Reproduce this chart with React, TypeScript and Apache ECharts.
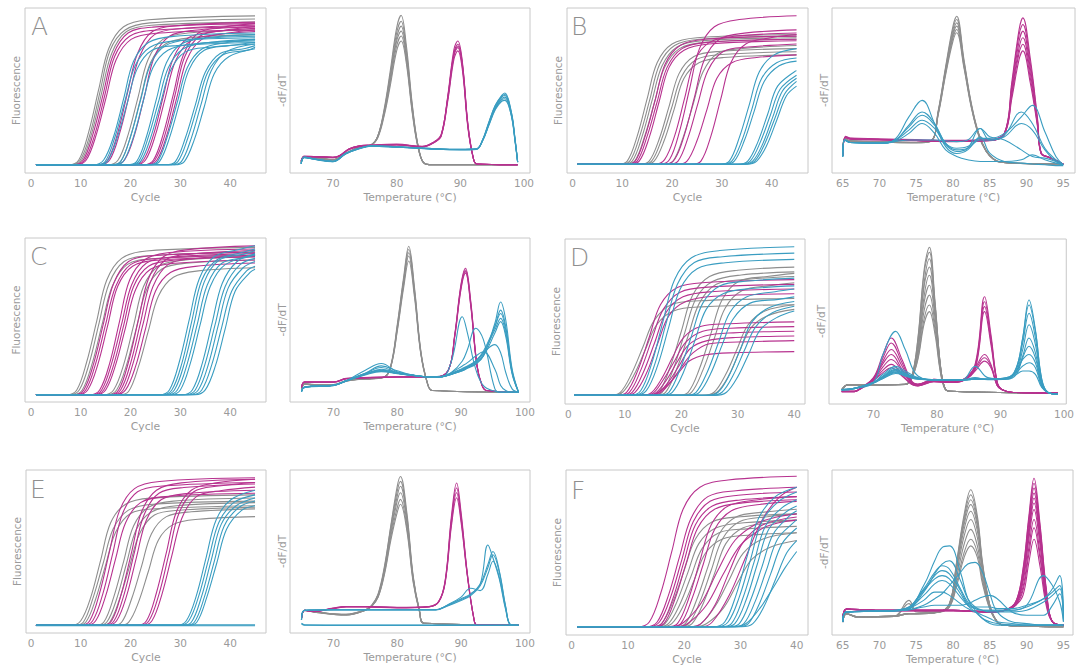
import React, { useEffect, useRef } from "react";
import * as echarts from "echarts";

const GRAY = "#8e8e8e";
const MAGENTA = "#b7328f";
const CYAN = "#3a9dc1";
const AXIS_TEXT = "#9a9a9a";
const BORDER = "#c8c8c8";
const FONT = "DejaVu Sans, Verdana, sans-serif";

// ---------- Amplification curves: [cycle, fluorescence] ----------
const A_AMP_GRAY = [
  [[1,0],[7.6,0],[9.6,3],[11.6,21],[13.6,48],[15.6,74],[18.6,88],[23.6,92.5],[45,95]],
  [[1,0],[7.9,0],[9.9,3],[11.9,20],[13.9,47],[15.9,73],[18.9,86],[23.9,90.5],[45,93]],
  [[1,0],[8.2,0],[10.2,3],[12.2,20],[14.2,46],[16.2,71],[19.2,85],[24.2,89],[45,91]],
  [[1,0],[15.5,0],[17.5,3],[19.5,19],[21.5,43],[23.5,67],[26.5,80],[31.5,84],[45,86]],
  [[1,0],[16,0],[18,2],[20,18],[22,42],[24,65],[27,77],[32,81],[45,83]],
];
const A_AMP_MAGENTA = [
  [[1,0],[8.5,0],[10.5,3],[12.5,20],[14.5,45],[16.5,70],[19.5,84],[24.5,87.8],[45,90]],
  [[1,0],[8.8,0],[10.8,3],[12.8,19],[14.8,44],[16.8,69],[19.8,82],[24.8,85.8],[45,88]],
  [[1,0],[9.1,0],[11.1,3],[13.1,19],[15.1,43],[17.1,67],[20.1,80],[25.1,83.9],[45,86]],
  [[1,0],[13.4,0],[15.4,3],[17.4,20],[19.4,46],[21.4,71],[24.4,85],[29.4,88.7],[45,91]],
  [[1,0],[13.8,0],[15.8,3],[17.8,20],[19.8,45],[21.8,69],[24.8,83],[29.8,86.8],[45,89]],
  [[1,0],[16.8,0],[18.8,3],[20.8,19],[22.8,44],[24.8,69],[27.8,82],[32.8,85.8],[45,88]],
  [[1,0],[20.6,0],[22.6,3],[24.6,19],[26.6,44],[28.6,68],[31.6,81],[36.6,84.8],[45,87]],
  [[1,0],[21,0],[23,3],[25,19],[27,43],[29,66],[32,79],[37,82.9],[45,85]],
  [[1,0],[22.6,0],[24.6,3],[26.6,20],[28.6,45],[30.6,70],[33.6,84],[38.6,87.8],[45,90]],
  [[1,0],[22.9,0],[24.9,3],[26.9,19],[28.9,44],[30.9,69],[33.9,82],[38.9,85.8],[45,88]],
  [[1,0],[23.3,0],[25.3,3],[27.3,19],[29.3,43],[31.3,67],[34.3,80],[39.3,83.9],[45,86]],
];
const A_AMP_CYAN = [
  [[1,0],[12.6,0],[14.6,3],[16.6,18],[18.6,42],[20.6,66],[23.6,78],[28.6,81.9],[45,84]],
  [[1,0],[12.9,0],[14.9,2],[16.9,18],[18.9,41],[20.9,63],[23.9,75],[28.9,79],[45,81]],
  [[1,0],[13.3,0],[15.3,2],[17.3,17],[19.3,39],[21.3,61],[24.3,73],[29.3,76],[45,78]],
  [[1,0],[16,0],[18,2],[20,18],[22,41],[24,64],[27,76],[32,80],[45,82]],
  [[1,0],[16.5,0],[18.5,2],[20.5,17],[22.5,40],[24.5,62],[27.5,73],[32.5,77],[45,79]],
  [[1,0],[19.2,0],[21.2,2],[23.2,18],[25.2,42],[27.2,65],[30.2,77],[35.2,81],[45,83]],
  [[1,0],[19.6,0],[21.6,2],[23.6,18],[25.6,40],[27.6,62],[30.6,74],[35.6,78],[45,80]],
  [[1,0],[20,0],[22,2],[24,17],[26,39],[28,60],[31,72],[36,75],[45,77]],
  [[1,0],[23.4,0],[25.4,2],[27.4,18],[29.4,40],[31.4,62],[34.4,74],[39.4,78],[45,80]],
  [[1,0],[23.8,0],[25.8,2],[27.8,17],[29.8,39],[31.8,61],[34.8,73],[39.8,76],[45,78]],
  [[1,0],[27,0],[29,2],[31,17],[33,38],[35,59],[38,71],[43,74.1],[45,76]],
  [[1,0],[27.5,0],[29.5,2],[31.5,17],[33.5,38],[35.5,59],[38.5,70],[43.5,73.1],[45,75]],
  [[1,0],[28.2,0],[30.2,2],[32.2,17],[34.2,39],[36.2,60],[39.2,72],[45,77]],
  [[1,0],[28.8,0],[30.8,2],[32.8,16],[34.8,37],[36.8,58],[39.8,69],[45,74]],
];

const B_AMP_GRAY = [
  [[1,0],[9,0],[11,2],[13,18],[15,42],[17,65],[20,77],[25,81],[45,83]],
  [[1,0],[9.5,0],[11.5,2],[13.5,18],[15.5,41],[17.5,64],[20.5,76],[25.5,80],[45,82]],
  [[1,0],[10,0],[12,2],[14,18],[16,41],[18,63],[21,75],[26,79],[45,81]],
  [[1,0],[10.5,0],[12.5,2],[14.5,18],[16.5,40],[18.5,62],[21.5,74],[26.5,78],[45,80]],
  [[1,0],[13.4,0],[15.4,2],[17.4,16],[19.4,37],[21.4,58],[24.4,69],[29.4,72.2],[45,74]],
  [[1,0],[13.9,0],[15.9,2],[17.9,16],[19.9,36],[21.9,56],[24.9,67],[29.9,70.2],[45,72]],
  [[1,0],[14.4,0],[16.4,2],[18.4,15],[20.4,35],[22.4,55],[25.4,65],[30.4,68.3],[45,70]],
  [[1,0],[18.2,0],[20.2,2],[22.2,17],[24.2,38],[26.2,59],[29.2,71],[34.2,74.1],[45,76]],
];
const B_AMP_MAGENTA = [
  [[1,0],[10.6,0],[12.6,2],[14.6,18],[16.6,41],[18.6,64],[21.6,76],[26.6,80],[45,82]],
  [[1,0],[11,0],[13,2],[15,18],[17,40],[19,62],[22,74],[27,78],[45,80]],
  [[1,0],[11.4,0],[13.4,2],[15.4,17],[17.4,40],[19.4,62],[22.4,73],[27.4,77],[45,79]],
  [[1,0],[16.5,0],[18.5,3],[20.5,18],[22.5,42],[24.5,66],[27.5,78],[32.5,81.9],[45,84]],
  [[1,0],[17.5,0],[19.5,3],[21.5,21],[23.5,48],[25.5,74],[28.5,88],[33.5,92.6],[45,95]],
  [[1,0],[18.5,0],[20.5,3],[22.5,19],[24.5,43],[26.5,67],[29.5,80],[34.5,83.9],[45,86]],
  [[1,0],[19.2,0],[21.2,2],[23.2,17],[25.2,39],[27.2,60],[30.2,72],[35.2,75],[45,77]],
  [[1,0],[21,0],[23,2],[25,15],[27,35],[29,55],[32,65],[37,68.3],[45,70]],
  [[1,0],[23.8,0],[25.8,2],[27.8,18],[29.8,42],[31.8,65],[34.8,77],[39.8,81],[45,83]],
];
const B_AMP_CYAN = [
  [[1,0],[29.5,0],[31.5,2],[33.5,17],[35.5,38],[37.5,59],[40.5,70],[45,74]],
  [[1,0],[30,0],[32,2],[34,15],[36,35],[38,55],[41,65],[45,68]],
  [[1,0],[30.5,0],[32.5,2],[34.5,15],[36.5,34],[38.5,53],[41.5,63],[45,66]],
  [[1,0],[33.2,0],[35.2,2],[37.2,14],[39.2,32],[41.2,50],[45,60]],
  [[1,0],[33.7,0],[35.7,2],[37.7,14],[39.7,31],[41.7,48],[45,57]],
  [[1,0],[34.2,0],[36.2,2],[38.2,13],[40.2,30],[42.2,47],[45,55]],
  [[1,0],[34.6,0],[36.6,2],[38.6,13],[40.6,29],[42.6,45],[45,53]],
  [[1,0],[35,0],[37,2],[39,12],[41,28],[43,44],[45,50]],
];

const C_AMP_GRAY = [
  [[1,0],[7.2,0],[9.2,3],[11.2,21],[13.2,47],[15.2,73],[18.2,87],[23.2,91.7],[45,94]],
  [[1,0],[7.7,0],[9.7,3],[11.7,20],[13.7,46],[15.7,71],[18.7,85],[23.7,88.7],[45,91]],
  [[1,0],[8.3,0],[10.3,3],[12.3,20],[14.3,45],[16.3,69],[19.3,83],[24.3,86.8],[45,89]],
  [[1,0],[14.6,0],[16.6,3],[18.6,19],[20.6,44],[22.6,69],[25.6,82],[30.6,85.8],[45,88]],
  [[1,0],[15.2,0],[17.2,3],[19.2,19],[21.2,43],[23.2,67],[26.2,80],[31.2,83.9],[45,86]],
  [[1,0],[17.6,0],[19.6,2],[21.6,18],[23.6,41],[25.6,63],[28.6,75],[33.6,79],[45,81]],
];
const C_AMP_MAGENTA = [
  [[1,0],[8.6,0],[10.6,3],[12.6,20],[14.6,46],[16.6,71],[19.6,85],[24.6,88.7],[45,91]],
  [[1,0],[9,0],[11,3],[13,20],[15,45],[17,69],[20,83],[25,86.8],[45,89]],
  [[1,0],[9.4,0],[11.4,3],[13.4,19],[15.4,44],[17.4,69],[20.4,82],[25.4,85.8],[45,88]],
  [[1,0],[11.8,0],[13.8,3],[15.8,20],[17.8,47],[19.8,73],[22.8,86],[27.8,90.7],[45,93]],
  [[1,0],[12.2,0],[14.2,3],[16.2,20],[18.2,45],[20.2,70],[23.2,84],[28.2,87.8],[45,90]],
  [[1,0],[12.6,0],[14.6,3],[16.6,19],[18.6,44],[20.6,69],[23.6,82],[28.6,85.8],[45,88]],
  [[1,0],[13,0],[15,3],[17,19],[19,43],[21,67],[24,80],[29,83.9],[45,86]],
  [[1,0],[15.6,0],[17.6,3],[19.6,21],[21.6,48],[23.6,74],[26.6,88],[31.6,92.6],[45,95]],
  [[1,0],[16,0],[18,3],[20,20],[22,46],[24,72],[27,86],[32,89.7],[45,92]],
  [[1,0],[16.5,0],[18.5,3],[20.5,20],[22.5,45],[24.5,69],[27.5,83],[32.5,86.8],[45,89]],
  [[1,0],[17,0],[19,3],[21,18],[23,42],[25,66],[28,78],[33,81.9],[45,84]],
];
const C_AMP_CYAN = [
  [[1,0],[25.8,0],[27.8,3],[29.8,21],[31.8,48],[33.8,74],[36.8,88],[41.8,92.6],[45,95]],
  [[1,0],[26.3,0],[28.3,3],[30.3,20],[32.3,47],[34.3,73],[37.3,86],[42.3,90.7],[45,93]],
  [[1,0],[26.8,0],[28.8,3],[30.8,20],[32.8,46],[34.8,72],[37.8,86],[42.8,89.7],[45,92]],
  [[1,0],[27.4,0],[29.4,3],[31.4,20],[33.4,45],[35.4,70],[38.4,84],[43.4,87.8],[45,90]],
  [[1,0],[28,0],[30,3],[32,20],[34,45],[36,69],[39,83],[45,89]],
  [[1,0],[30.4,0],[32.4,3],[34.4,20],[36.4,46],[38.4,71],[41.4,85],[45,90]],
  [[1,0],[31,0],[33,3],[35,20],[37,45],[39,69],[42,83],[45,87]],
  [[1,0],[31.6,0],[33.6,3],[35.6,19],[37.6,44],[39.6,68],[42.6,81],[45,85]],
  [[1,0],[32.3,0],[34.3,3],[36.3,19],[38.3,43],[40.3,66],[43.3,79],[45,82]],
  [[1,0],[33,0],[35,3],[37,18],[39,42],[41,66],[44,78],[45,80]],
];

const D_AMP_GRAY = [
  [[1,0],[7.2,0],[9.2,2],[11.2,14],[13.2,31],[15.2,48],[18.2,58],[23.2,60.5],[40,62]],
  [[1,0],[7.6,0],[9.6,2],[11.6,13],[13.6,29],[15.6,45],[18.6,54],[23.6,56.6],[40,58]],
  [[1,0],[14,0],[16,2],[18,18],[20,41],[22,64],[25,76],[30,80],[40,82]],
  [[1,0],[14.6,0],[16.6,2],[18.6,17],[20.6,40],[22.6,62],[25.6,73],[30.6,77],[40,79]],
  [[1,0],[15.2,0],[17.2,2],[19.2,17],[21.2,38],[23.2,59],[26.2,71],[31.2,74.1],[40,76]],
  [[1,0],[19.2,0],[21.2,2],[23.2,17],[25.2,39],[27.2,61],[30.2,73],[35.2,76],[40,78]],
  [[1,0],[19.8,0],[21.8,2],[23.8,16],[25.8,36],[27.8,56],[30.8,67],[35.8,70.2],[40,72]],
  [[1,0],[23.8,0],[25.8,2],[27.8,13],[29.8,29],[31.8,45],[34.8,54],[40,58]],
  [[1,0],[24.3,0],[26.3,2],[28.3,12],[30.3,28],[32.3,43],[35.3,51],[40,55]],
];
const D_AMP_MAGENTA = [
  [[1,0],[8.3,0],[10.3,2],[12.3,16],[14.3,37],[16.3,58],[19.3,69],[24.3,72.2],[40,74]],
  [[1,0],[8.8,0],[10.8,2],[12.8,16],[14.8,36],[16.8,55],[19.8,66],[24.8,69.2],[40,71]],
  [[1,0],[9.3,0],[11.3,2],[13.3,15],[15.3,34],[17.3,53],[20.3,63],[25.3,66.3],[40,68]],
  [[1,0],[9.8,0],[11.8,2],[13.8,14],[15.8,33],[17.8,51],[20.8,60],[25.8,63.4],[40,65]],
  [[1,0],[12.4,0],[14.4,1],[16.4,10],[18.4,24],[20.4,37],[23.4,44],[28.4,45.8],[40,47]],
  [[1,0],[12.8,0],[14.8,1],[16.8,10],[18.8,22],[20.8,34],[23.8,41],[28.8,42.9],[40,44]],
  [[1,0],[13.2,0],[15.2,1],[17.2,9],[19.2,21],[21.2,32],[24.2,38],[29.2,40],[40,41]],
  [[1,0],[13.6,0],[15.6,1],[17.6,8],[19.6,19],[21.6,30],[24.6,35],[29.6,37],[40,38]],
  [[1,0],[14,0],[16,1],[18,8],[20,18],[22,27],[25,33],[30,34.1],[40,35]],
  [[1,0],[13.4,0],[15.4,1],[17.4,6],[19.4,14],[21.4,22],[24.4,26],[29.4,27.3],[40,28]],
];
const D_AMP_CYAN = [
  [[1,0],[10.8,0],[12.8,3],[14.8,21],[16.8,48],[18.8,74],[21.8,88],[26.8,92.6],[40,95]],
  [[1,0],[11.3,0],[13.3,3],[15.3,20],[17.3,46],[19.3,71],[22.3,85],[27.3,88.7],[40,91]],
  [[1,0],[11.8,0],[13.8,3],[15.8,19],[17.8,44],[19.8,68],[22.8,81],[27.8,84.8],[40,87]],
  [[1,0],[15.8,0],[17.8,2],[19.8,17],[21.8,38],[23.8,59],[26.8,70],[31.8,73.1],[40,75]],
  [[1,0],[16.4,0],[18.4,2],[20.4,15],[22.4,35],[24.4,55],[27.4,65],[32.4,68.3],[40,70]],
  [[1,0],[20.6,0],[22.6,2],[24.6,15],[26.6,34],[28.6,53],[31.6,63],[36.6,66.3],[40,68]],
  [[1,0],[21.2,0],[23.2,2],[25.2,14],[27.2,32],[29.2,49],[32.2,59],[37.2,61.4],[40,63]],
  [[1,0],[24.5,0],[26.5,2],[28.5,13],[30.5,30],[32.5,47],[35.5,56],[40,60]],
  [[1,0],[25.2,0],[27.2,2],[29.2,13],[31.2,29],[33.2,44],[36.2,53],[40,57]],
  [[1,0],[26,0],[28,2],[30,12],[32,27],[34,42],[37,50],[40,54]],
];

const E_AMP_GRAY = [
  [[1,0],[8,0],[10,3],[12,18],[14,42],[16,66],[19,78],[24,81.9],[45,84]],
  [[1,0],[8.5,0],[10.5,2],[12.5,18],[14.5,40],[16.5,62],[19.5,74],[24.5,78],[45,80]],
  [[1,0],[9,0],[11,2],[13,17],[15,39],[17,60],[20,72],[25,75],[45,77]],
  [[1,0],[12.6,0],[14.6,2],[16.6,18],[18.6,41],[20.6,64],[23.6,76],[28.6,80],[45,82]],
  [[1,0],[13.2,0],[15.2,2],[17.2,17],[19.2,40],[21.2,62],[24.2,73],[29.2,77],[45,79]],
  [[1,0],[13.8,0],[15.8,2],[17.8,17],[19.8,38],[21.8,59],[24.8,71],[29.8,74.1],[45,76]],
  [[1,0],[16.2,0],[18.2,2],[20.2,17],[22.2,38],[24.2,59],[27.2,70],[32.2,73.1],[45,75]],
  [[1,0],[17.6,0],[19.6,2],[21.6,15],[23.6,35],[25.6,55],[28.6,65],[33.6,68.3],[45,70]],
];
const E_AMP_MAGENTA = [
  [[1,0],[9.8,0],[11.8,3],[13.8,21],[15.8,48],[17.8,74],[20.8,88],[25.8,92.6],[45,95]],
  [[1,0],[10.4,0],[12.4,3],[14.4,20],[16.4,46],[18.4,72],[21.4,86],[26.4,89.7],[45,92]],
  [[1,0],[11,0],[13,3],[15,19],[17,43],[19,66],[22,79],[27,82.9],[45,85]],
  [[1,0],[14.2,0],[16.2,3],[18.2,21],[20.2,47],[22.2,73],[25.2,87],[30.2,91.7],[45,94]],
  [[1,0],[14.7,0],[16.7,3],[18.7,20],[20.7,46],[22.7,71],[25.7,85],[30.7,88.7],[45,91]],
  [[1,0],[15.2,0],[17.2,3],[19.2,19],[21.2,44],[23.2,68],[26.2,81],[31.2,84.8],[45,87]],
  [[1,0],[21.2,0],[23.2,3],[25.2,21],[27.2,47],[29.2,73],[32.2,87],[37.2,91.7],[45,94]],
  [[1,0],[21.7,0],[23.7,3],[25.7,20],[27.7,46],[29.7,72],[32.7,86],[37.7,89.7],[45,92]],
  [[1,0],[22.3,0],[24.3,3],[26.3,20],[28.3,45],[30.3,69],[33.3,83],[38.3,86.8],[45,89]],
];
const E_AMP_CYAN = [
  [[1,0],[29.2,0],[31.2,3],[33.2,19],[35.2,44],[37.2,68],[40.2,81],[45,87]],
  [[1,0],[29.7,0],[31.7,3],[33.7,19],[35.7,43],[37.7,66],[40.7,79],[45,84]],
  [[1,0],[30.2,0],[32.2,2],[34.2,18],[36.2,42],[38.2,65],[41.2,77],[45,82]],
  [[1,0],[30.8,0],[32.8,2],[34.8,18],[36.8,41],[38.8,64],[41.8,76],[45,80]],
  [[1,0],[31.3,0],[33.3,2],[35.3,18],[37.3,40],[39.3,62],[42.3,74],[45,77]],
  [[1,0.3],[45,0.3]],
  [[1,-0.2],[45,-0.2]],
];

const F_AMP_GRAY = [
  [[1,0],[14,0],[16,2],[18,16],[20,36],[22,56],[25,67],[30,70.2],[40,72]],
  [[1,0],[14.6,0],[16.6,2],[18.6,15],[20.6,34],[22.6,53],[25.6,63],[30.6,66.3],[40,68]],
  [[1,0],[15.2,0],[17.2,2],[19.2,14],[21.2,32],[23.2,50],[26.2,60],[31.2,62.4],[40,64]],
  [[1,0],[15.8,0],[17.8,2],[19.8,13],[21.8,30],[23.8,47],[26.8,56],[31.8,58.5],[40,60]],
  [[1,0],[18.2,0],[20.2,2],[22.2,17],[24.2,38],[26.2,59],[29.2,70],[34.2,73.1],[40,75]],
  [[1,0],[18.8,0],[20.8,2],[22.8,16],[24.8,36],[26.8,56],[29.8,67],[34.8,70.2],[40,72]],
  [[1,0],[19.4,0],[21.4,2],[23.4,15],[25.4,34],[27.4,53],[30.4,63],[35.4,66.3],[40,68]],
  [[1,0],[21,0],[23,2],[25.5,13],[28,30],[30.5,47],[34,56],[40,60]],
  [[1,0],[22,0],[24,2],[27,12],[29.5,28],[32,43],[35.5,51],[40,55]],
];
const F_AMP_MAGENTA = [
  [[1,0],[11.8,0],[13.8,3],[15.8,21],[17.8,48],[19.8,75],[22.8,89],[27.8,93.6],[40,96]],
  [[1,0],[13.2,0],[15.2,3],[17.2,20],[19.2,45],[21.2,69],[24.2,83],[29.2,86.8],[40,89]],
  [[1,0],[13.6,0],[15.6,3],[17.6,19],[19.6,43],[21.6,67],[24.6,80],[29.6,83.9],[40,86]],
  [[1,0],[14,0],[16,2],[18,18],[20,42],[22,65],[25,77],[30,80.9],[40,83]],
  [[1,0],[14.4,0],[16.4,2],[18.4,18],[20.4,41],[22.4,63],[25.4,75],[30.4,79],[40,81]],
  [[1,0],[16.8,0],[18.8,2],[20.8,18],[22.8,42],[24.8,65],[27.8,77],[32.8,80.9],[40,83]],
  [[1,0],[17.4,0],[19.4,2],[21.4,18],[23.4,40],[25.4,62],[28.4,74],[33.4,78],[40,80]],
  [[1,0],[18,0],[20,3],[23,15],[26,36],[29,55],[33,66],[36.5,70],[40,72]],
  [[1,0],[19,0],[21,3],[24,14],[27,34],[30,52],[34,63],[37,66.5],[40,68]],
  [[1,0],[21,0],[23,2],[25.5,14],[28,35],[30.5,54],[34,65],[40,70]],
  [[1,0],[23,0],[25,3],[28,20],[31,45],[34,69],[37,83],[40,89]],
];
const F_AMP_CYAN = [
  [[1,0],[25.2,0],[27.2,3],[29.2,20],[31.2,45],[33.2,69],[36.2,83],[40,89]],
  [[1,0],[25.8,0],[27.8,3],[29.8,19],[31.8,43],[33.8,67],[36.8,80],[40,86]],
  [[1,0],[26.4,0],[28.4,2],[30.4,18],[32.4,41],[34.4,64],[37.4,76],[40,81]],
  [[1,0],[27,0],[29,2],[31,17],[33,40],[35,62],[38,73],[40,77]],
  [[1,0],[27.8,0],[29.8,2],[31.8,17],[33.8,38],[35.8,59],[38.8,71],[40,74]],
  [[1,0],[28.6,0],[30.6,2],[32.6,16],[34.6,36],[36.6,56],[39.6,67],[40,68]],
  [[1,0],[29.4,0],[31.4,2],[33.4,15],[35.4,34],[37.4,53],[40,63]],
  [[1,0],[30.2,0],[32.2,2],[34.2,13],[36.2,30],[38.2,47],[40,55]],
  [[1,0],[29,0],[31,2],[33.5,12],[36,26],[38,38],[40,48]],
];

// ---------- Melt curves: temperature grid + -dF/dT rows ----------
const A_MELT_GRAY_T = [65,65.5,67,70,72,74,76,77,78,79,80,80.7,81.5,82.5,83.5,84.5,86,99];
const A_MELT_GRAY = [
  [6.7,10,9.5,8,12,15.5,17,22,38,62,88,95.5,78,40,14,5.5,5,5],
  [6.5,10,9.3,8,12,15.5,17,22,37,60,85,92,75,39,14,5.5,5,5],
  [6.7,9.8,9.5,8.2,12,15.3,17,22,36,58,82,89,73,38,14,5.5,5,5],
  [6.5,10,9.3,7.8,11.8,15.5,17.2,21.5,36,57,80,86,71,37,13.5,5.5,5,5],
  [6.7,9.8,9.5,8,12,15.3,17,21.5,35,55,77,83,69,36,13.5,5.5,5,5],
  [6.5,10,9.3,8,12,15.5,17,21,34,53,74,80,67,35,13,5.5,5,5],
];
const A_MELT_MAG_T = [65,65.5,67,70,71,72.5,74,76,80,84,86,87,88,89,89.6,90.3,91.2,92,92.6,99];
const A_MELT_MAG = [
  [7.5,10,10,9.5,10.5,14.5,16.3,16.8,17.3,16,19,23,46,75,80,68,29,9.7,5.5,5],
  [7.5,10,10,9.5,10.5,14.5,16.3,16.8,17.3,16,19,23,45,73,78,67,28,9.7,5.5,5],
  [7.3,9.8,9.8,9.3,10.3,14.3,16,16.5,17,15.8,18.7,22.5,44,71,76,65,28,9.5,5.5,5],
  [7.3,9.8,9.8,9.3,10.3,14.3,16,16.5,17,15.8,18.7,22.5,43,69,74,63,27,9.5,5.5,5],
  [7.5,10.2,10,9.5,10.5,14.6,16.4,17,17.5,16.2,19.2,23.5,45,72,77,66,29,9.8,5.5,5],
];
const A_MELT_CYAN_T = [65,65.5,67,70,72,74,76,80,85,90,92.5,93.5,94.5,95.5,96.5,97,98,98.6,99];
const A_MELT_CYAN = [
  [5.5,9.5,8.5,7,11.8,14.8,16.4,15.8,14.8,14.2,14.5,20,31,41,47,48.5,37,20,6.7],
  [5.5,9.3,8.3,6.8,11.5,14.5,16.2,15.6,14.6,14,14.3,19.5,30,40,46,47,36,20,6.7],
  [5.8,9.6,8.6,7.1,11.9,14.9,16.5,15.9,14.9,14.3,14.6,20,30,39.5,45,46,36,19.5,6.7],
  [5.5,9.4,8.4,6.9,11.6,14.6,16.3,15.7,14.7,14.1,14.4,19.5,29.5,39,44.5,45,35,19,6.5],
  [5.6,9.5,8.5,7,11.7,14.7,16.4,15.8,14.8,14.2,14.5,19.8,29,38.5,43.5,44,35,19,6.5],
  [5.7,9.6,8.6,7.1,11.8,14.8,16.5,15.9,14.9,14.3,14.6,20.2,31,41,46.5,47.5,37,20.5,6.8],
];

const B_MELT_GRAY_T = [65,65.3,66,70,75,77,78,79,80,80.5,81.5,82.5,83.5,84.5,85.5,86.5,90,95];
const B_MELT_GRAY = [
  [10.8,21,19.5,19,18.5,19.5,38,64.5,89,95,68.6,42,24,13.8,8.7,6.7,5.8,5.5],
  [10.5,20.5,19.2,18.8,18.3,19.3,37.5,63.5,87,93,67.5,41.5,23.5,13.5,8.5,6.6,5.8,5.5],
  [10.8,21.2,19.6,19.1,18.6,19.6,37,62.5,85,91,66.5,41,23.5,13.5,8.5,6.6,5.8,5.5],
  [10.6,20.8,19.3,18.9,18.4,19.4,36.5,61.5,83.5,89,65.5,40.5,23,13.3,8.4,6.5,5.7,5.5],
  [10.7,21,19.4,19,18.5,19.5,36,60.5,82,87,64.5,40,23,13.3,8.4,6.5,5.7,5.5],
  [10.5,20.6,19.2,18.8,18.3,19.3,35.5,59.5,80,85,63.5,39.5,22.5,13,8.3,6.5,5.7,5.5],
];
const B_MELT_MAG_T = [65,65.4,66,70,75,80,85,87,88,89,89.5,90.5,91.5,92,93,94,95];
const B_MELT_MAG = [
  [10.8,22,21,20.5,20,19.5,20,24,55,87,94,70,33,12,9.7,7.7,5.3],
  [10.6,21.6,20.6,20.2,19.7,19.2,19.8,23.5,53,84,90,67,32,12,9.7,7.7,5.3],
  [10.8,22.2,21.2,20.8,20.2,19.8,20.3,24.3,51,80,86,64,31,12,9.7,7.7,5.3],
  [10.5,21.5,20.5,20,19.5,19,19.5,23.5,49,76,82,61,30,11.8,9.6,7.6,5.3],
  [10.7,21.8,20.8,20.3,19.8,19.3,19.8,23.8,47,73,78,58,29,11.8,9.6,7.6,5.3],
  [10.6,21.7,20.7,20.2,19.7,19.2,19.7,23.6,45,69,74,55,28,11.7,9.5,7.5,5.3],
];
const B_MELT_CYAN_T = [65,65.3,66,70,72,74,75.8,77.5,79,80.5,82,83.7,85,87,89.3,90.8,92.5,94,95];
const B_MELT_CYAN = [
  [10,20,18.5,18,20,34,44,30,16,11.8,14,22,12,7,6,5.5,5,4.5,4.5],
  [10,20,18.5,18,19.5,29,37,30,18,14,15,20,20,23,37,30,15,8,5],
  [10,20,18.5,18,19.5,28,35,29,18,15,16,21,21,24,34,41,25,10,5],
  [10,20,18.5,18,19.5,26,32,27,17,13,15,27,20,22,30,26,14,7,5],
  [10,20,18.5,18.5,19,20,20,20,19.5,19,20,27,22,20,14,10,9,7,5],
  [10,20,18.5,18,19,24,30,24,14,10,8,7,7,7,8,11,8,6,5],
];

const C_MELT_GRAY_T = [65,65.5,67,70,72,74,76,78,79,80,81,81.8,82.7,83.7,84.7,85.5,99];
const C_MELT_GRAY = [
  [8,11,10.5,10.6,13,14,14.3,15.3,22.4,47,76,95,70,31,12,7,6],
  [8,11,10.5,10.5,12.8,13.8,14.2,15.2,22,46,74.5,93,68.5,30.5,12,7,6],
  [7.8,10.8,10.3,10.4,12.7,13.8,14.1,15.1,21.8,45,73,91,67,30,11.8,7,6],
  [8,11.2,10.7,10.7,13.1,14.1,14.4,15.4,21.6,44,71.5,89,66,29.5,11.8,7,6],
  [7.9,10.9,10.4,10.5,12.9,13.9,14.2,15.2,21.4,43,69.5,86,64,29,11.6,7,6],
];
const C_MELT_MAG_T = [65,65.5,70,72,74,80,86,88,89,90,90.7,91.5,92.5,93.3,94,99];
const C_MELT_MAG = [
  [9,12.2,12.2,14.3,14.7,15.3,15.3,19.4,41,72,81.6,62,22.4,10,7,6],
  [9,12,12,14.1,14.5,15.1,15.1,19.2,40.5,71,80.5,61,22,10,7,6],
  [8.8,12.3,12.3,14.4,14.8,15.4,15.4,19.5,40,70,79.5,60,22,10,7,6],
  [8.9,12.1,12.1,14.2,14.6,15.2,15.2,19.3,39.5,69,78.6,59,21.5,10,7,6],
];
const C_MELT_CYAN_T = [65,65.5,70,72,75,77.5,80,82,85,87,88.5,90.2,91,92.3,93.5,95.3,96.2,97,98,99];
const C_MELT_CYAN = [
  [6.5,9,10.2,12.9,19.4,23.5,18.4,16.8,15.3,15.3,25,52,42,20,10,6.5,6,6,6,6],
  [6.5,9,10.2,12.9,17,20,18,16.5,15.3,15.5,18,25,32,45,38,8,6,6,6,6],
  [6.5,9,10.2,12.9,17,19,17.5,16.5,15.3,15.5,17,19,20.5,23,28,48,61,50,20,6],
  [6.3,8.8,10,12.7,16.5,18.5,17.3,16.4,15.2,15.4,17,19.5,21,24,29,46,56,46,19,6],
  [6.5,9.2,10.3,13,17.5,21,18,16.6,15.4,15.6,17.5,20.5,22,25,31,46,54,44,18,6],
  [6.4,9,10.1,12.8,17.2,19.5,17.6,16.5,15.3,15.5,17.2,20,21.5,24.5,30,44,51,42,18,6],
  [6.5,9.1,10.2,12.9,17,19,17.5,16.4,15.3,15.5,17,19.5,21,23.5,28,42,49,40,17,6],
  [6.5,9,10.2,12.9,17,19,17.5,16.5,15.3,15.5,17,19,21,25,30,35,30,18,8,6],
  [6.5,9,10.2,12.9,17.5,22,19,16.8,15.3,15.5,18,22,24,28,30.6,20,10,7,6,6],
];

const D_MELT_GRAY_T = [65,66,70,75,76,77,78,78.8,79.7,80.5,81.2,82,99];
const D_MELT_GRAY = [
  [8.7,11.7,11.7,12,16,40,82,95,62,25,10,7.7,6.7],
  [8.7,11.7,11.7,12,16,39,80,92,60,24.5,10,7.7,6.7],
  [8.5,11.5,11.5,11.8,15.5,36,74,88,60,25,10,7.7,6.7],
  [8.7,11.7,11.7,12,16,36,72,83,56,24,10,7.7,6.7],
  [8.5,11.5,11.5,11.8,15.5,33,66,78,55,24,10,7.7,6.7],
  [8.7,11.7,11.7,12,16,32,62,72,52,23,10,7.7,6.7],
  [8.5,11.5,11.5,11.8,15.5,30,57,66,48,22,10,7.7,6.7],
  [8.7,11.7,11.7,12,15.5,28,52,60,45,21,10,7.7,6.7],
  [8.5,11.5,11.5,11.8,15.3,27,49,56,42,20,9.5,7.7,6.7],
];
const D_MELT_MAG_T = [65,67,68,70,71.5,72.8,74.5,76,77,79.5,82,84,86,87.5,88.5,89.5,90.3,92,99];
const D_MELT_MAG = [
  [7.7,7.7,9.7,16,30,40,27,14,12,15,13.5,14.5,24,65,42,13,8.7,7,6.7],
  [7.7,7.7,9.7,15.5,28,37,25,13.5,12,15,13.5,14.5,23,62,40,13,8.7,7,6.7],
  [7.7,7.7,9.5,15,26,33,23,13,12,14.5,13.5,14.5,22,59,38,12.5,8.7,7,6.7],
  [7.5,7.5,9.5,15,24.5,30,21,13,11.5,14,13,14,21,56,36,12.5,8.7,7,6.7],
  [7.7,7.7,9.5,14.5,22.5,27,20,12.5,11.5,14,13,14.5,22,30,24,11,8.5,7,6.7],
  [7.5,7.5,9.3,14,20.5,24,18,12,11,13.5,13,14,21,28,23,11,8.5,7,6.7],
  [7.5,7.5,9.3,14,19,22,17,12,11,13.5,13,14,20,26,22,11,8.5,7,6.7],
];
const D_MELT_CYAN_T = [65,67,70,71.5,73.5,75,77,80,84,86,88,91,92.5,93.5,94.5,95.5,96.5,97.5,99];
const D_MELT_CYAN = [
  [8.7,9.5,13,30,44,33,17,14.7,14.7,16,14.7,15,18,28,35,28,12,7,6],
  [8.7,9.5,13,18,22.8,20,16,14.7,14.7,22.8,16,15,22,40,63,45,15,7,6],
  [8.7,9.5,13,17,22,19,15.5,14.7,14.7,15.5,15,15.5,22,40,60,44,15,7,6],
  [8.5,9.3,12.7,16.5,21,18.5,15.5,14.5,14.5,15,15,15.5,21,37,55,40,14,7,6],
  [8.7,9.5,13,16.5,20.5,18,15.5,14.7,14.7,15,15,15.5,20,33,48,36,13,7,6],
  [8.5,9.3,12.7,16,20,18,15.5,14.5,14.5,15,15,15.5,19.5,29,40,31,12,7,6],
  [8.7,9.5,13,16,19.5,17.5,15.5,14.7,14.7,15,15,16,20,27,30,25,11,7,6],
  [8.5,9.3,12.7,15.5,19,17,15,14.5,14.5,15,15,16,19,23,25,22,10.5,7,6],
  [8.7,9.5,13,15.5,18.5,17,15,14.7,14.7,15,15,15.5,18,20,20,18,10,7,6],
];

const E_MELT_GRAY_T = [65,65.5,67,72,75,76,77,78,79,80,80.5,81.5,82.5,83.5,84.2,99];
const E_MELT_GRAY = [
  [9,14,13,11.5,14.3,17,24,41,66,90,96,74,35,13.5,6,5],
  [9,14,13,11.5,14.3,17,23.5,40,65,87,93,72,34,13.3,6,5],
  [8.8,13.8,12.8,11.2,14,16.7,23,39,63,84,90,70,33.5,13.3,6,5],
  [9,14,13,11,14,16.5,22.5,38,61,81,86,68,33,13,6,5],
  [8.8,13.8,12.8,11,13.8,16.3,22,37,59,77,82,65,32,13,6,5],
  [9,14,13,11.2,14,16.5,22,36,57,74,79,63,31,12.8,6,5],
];
const E_MELT_MAG_T = [65,65.5,67,70,72,75,80,85,86.5,87.5,88.5,89.3,90,91,92,92.5,99];
const E_MELT_MAG = [
  [9,14,13.3,15.3,16.3,16.3,15.7,16.3,19.4,32,72,92,74,36,9,5,4.7],
  [9,14,13.3,15.1,16.1,16.1,15.5,16.1,19.2,31.5,70,89,72,35.5,9,5,4.7],
  [8.8,13.8,13.1,15,16,16,15.4,16,19,31,68,86,70,35,9,5,4.7],
  [8.9,13.9,13.2,15.2,16.2,16.2,15.6,16.2,19.3,30.5,66,83,68,34.5,9,5,4.7],
];
const E_MELT_CYAN_T = [65,65.5,70,75,80,86,88,90,91.5,93,94.2,95,96,97,97.8,99];
const E_MELT_CYAN = [
  [8,14,14.3,14.3,14.3,14.3,17.3,21,24,30,54,46,33,14,5,4.7],
  [8,14,14.3,14.3,14.3,14.3,17,20.5,23.5,30,42,50,38,16,5,4.7],
  [8,13.8,14.1,14.1,14.1,14.1,16.8,20,23,29,40,48,37,15.5,5,4.7],
  [8,14,14.3,14.3,14.3,14.3,17.5,22,27.5,26,36,44,34,15,5,4.7],
  [5.5,4.8,4.7,4.7,4.7,4.7,4.7,4.7,4.7,4.7,4.7,4.7,4.7,4.7,4.7,4.7],
  [6,5,4.9,4.9,4.9,4.9,4.9,4.9,4.9,4.9,4.9,4.9,4.9,4.9,4.9,4.9],
];

const F_MELT_GRAY_T = [65,65.5,67,72,74,75,78,79.5,80.5,81.5,82.4,83.3,84,85,86,87,95];
const F_MELT_GRAY = [
  [8,13,11,11.5,13,13,14,19,45,73,88,72,44,18,8,6,5],
  [8,13,11,11.5,13,13,14,19,44,71,85,70,43,18,8,6,5],
  [7.8,12.8,10.8,11.2,12.8,12.8,13.8,18.5,43,69,82,68,42,17.5,8,6,5],
  [8,13,11,11.5,21,15,14,18.5,42,67,79,66,41,17.5,8,6,5],
  [7.8,12.8,10.8,11.2,19,14,13.8,18,40,64,75,63,40,17,8,6,5],
  [8,13,11,11.5,13,13,14,18,38,60,70,59,38,17,8,6,5],
  [7.8,12.8,10.8,11.2,12.8,12.8,13.8,17.5,35,55,64,54,35,16.5,8,6,5],
  [8,13,11,11.5,13,13,14,17,32,50,58,50,33,16,8,6,5],
  [7.8,12.8,10.8,11.2,12.8,12.8,13.8,17,30,47,54,47,31,15.5,8,6,5],
];
const F_MELT_MAG_T = [65,65.5,70,80,85,87,88.5,89.5,90.3,91,91.8,92.7,93.5,95];
const F_MELT_MAG = [
  [8.1,15.8,15,15,14,15,20,40,72,95,68,27,8,6],
  [8.1,15.8,15,15,14,15,20,39,70,92,66,26,8,6],
  [8,15.6,14.8,14.8,13.8,14.8,19.5,37,68,89,64,25,8,6],
  [8.1,15.8,15,15,14,15,19.5,36,65,86,62,24,8,6],
  [8,15.6,14.8,14.8,13.8,14.8,19,35,63,83,60,23,8,6],
  [8.1,15.8,15,15,14,15,19,34,61,80,58,22,8,6],
  [8,15.6,14.8,14.8,13.8,14.8,18.5,32,58,76,55,21,8,6],
  [8.1,15.8,15,15,14,15,18.5,29,53,70,50,20,8,6],
  [8,15.6,14.8,14.8,13.8,14.8,18,27,49,65,47,19,8,6],
  [8.1,15.8,15,15,14,15,18,24,44,58,42,17,8,6],
];
const F_MELT_CYAN_T = [65,65.5,70,73.5,76,77.5,78.5,79.5,81,82,83,84,85,86,88,90,92.3,93.5,94.5,95];
const F_MELT_CYAN = [
  [8,14,14.5,15,30,45,53,54,38,22,15,10,7,6,6,6,6,6,6,6],
  [8,14,14.5,15,26,37,43,45,33,22,17,15,14,14,14,15,20,24,28,8],
  [8,14,14.5,16,28,38,42,40,28,20,16,15,15,15,15,18,36,30,20,8],
  [8,14,14.5,15.5,27,36,39,37,27,19,17,17,17,16,16,18,22,28,36,10],
  [8,14,14.5,16,27,34,36,34,25,18,14,10,8,7,6,6,6,6,6,6],
  [8,14,14.5,15.5,24,31,33,31,23,18,16,15,15,15,15,17,22,26,30,12],
  [8,14,14.5,15.5,21,26,26,24,19,16,14,12,10,8,7,6,6,6,6,6],
  [8,14,14.5,15,18,22,25,30,38,43,44,38,25,14,8,7,6,6,6,6],
  [8,14,14.5,15,17,18,18,18,18,19,21,23,24,22,14,12,12,18,25,10],
];

const AMP_TICKS_45 = [0, 10, 20, 30, 40];
const MELT_TICKS_10 = [70, 80, 90, 100];
const MELT_TICKS_5 = [65, 70, 75, 80, 85, 90, 95];

type Panel = {
  kind: "amp" | "melt";
  letter?: string;
  letterPos?: [number, number];
  grid: { left: number; top: number; width: number; height: number };
  xr: [number, number];
  yr: [number, number];
  ticks: number[];
  amp?: [number[][][], string][];
  melt?: [number[], number[][], string][];
};

const PANELS: Panel[] = [
  { kind: "amp", letter: "A", letterPos: [31, 27], grid: { left: 25, top: 8, width: 241, height: 165 }, xr: [-1.2, 47.2], yr: [-5.3, 100], ticks: AMP_TICKS_45,
    amp: [[A_AMP_GRAY, GRAY], [A_AMP_MAGENTA, MAGENTA], [A_AMP_CYAN, CYAN]] },
  { kind: "melt", grid: { left: 290, top: 8, width: 240, height: 165 }, xr: [63.25, 100.94], yr: [0, 100], ticks: MELT_TICKS_10,
    melt: [[A_MELT_GRAY_T, A_MELT_GRAY, GRAY], [A_MELT_MAG_T, A_MELT_MAG, MAGENTA], [A_MELT_CYAN_T, A_MELT_CYAN, CYAN]] },
  { kind: "amp", letter: "B", letterPos: [571, 27], grid: { left: 567, top: 8, width: 241, height: 165 }, xr: [-1.1, 47.3], yr: [-5.6, 100], ticks: AMP_TICKS_45,
    amp: [[B_AMP_GRAY, GRAY], [B_AMP_MAGENTA, MAGENTA], [B_AMP_CYAN, CYAN]] },
  { kind: "melt", grid: { left: 832, top: 8, width: 243, height: 165 }, xr: [63.54, 96.6], yr: [0, 100], ticks: MELT_TICKS_5,
    melt: [[B_MELT_GRAY_T, B_MELT_GRAY, GRAY], [B_MELT_MAG_T, B_MELT_MAG, MAGENTA], [B_MELT_CYAN_T, B_MELT_CYAN, CYAN]] },
  { kind: "amp", letter: "C", letterPos: [30, 257], grid: { left: 25, top: 238, width: 241, height: 164 }, xr: [-1.2, 47.2], yr: [-4.7, 100], ticks: AMP_TICKS_45,
    amp: [[C_AMP_GRAY, GRAY], [C_AMP_MAGENTA, MAGENTA], [C_AMP_CYAN, CYAN]] },
  { kind: "melt", grid: { left: 290, top: 238, width: 240, height: 164 }, xr: [63.2, 100.8], yr: [0, 100], ticks: MELT_TICKS_10,
    melt: [[C_MELT_GRAY_T, C_MELT_GRAY, GRAY], [C_MELT_MAG_T, C_MELT_MAG, MAGENTA], [C_MELT_CYAN_T, C_MELT_CYAN, CYAN]] },
  { kind: "amp", letter: "D", letterPos: [570, 258], grid: { left: 565, top: 239, width: 240, height: 165 }, xr: [-0.6, 41.9], yr: [-5.5, 100], ticks: AMP_TICKS_45,
    amp: [[D_AMP_GRAY, GRAY], [D_AMP_MAGENTA, MAGENTA], [D_AMP_CYAN, CYAN]] },
  { kind: "melt", grid: { left: 829, top: 239, width: 240, height: 165 }, xr: [63, 100.36], yr: [0, 100], ticks: MELT_TICKS_10,
    melt: [[D_MELT_GRAY_T, D_MELT_GRAY, GRAY], [D_MELT_MAG_T, D_MELT_MAG, MAGENTA], [D_MELT_CYAN_T, D_MELT_CYAN, CYAN]] },
  { kind: "amp", letter: "E", letterPos: [30, 490], grid: { left: 26, top: 470, width: 240, height: 163 }, xr: [-1.0, 47.2], yr: [-4.9, 100], ticks: AMP_TICKS_45,
    amp: [[E_AMP_GRAY, GRAY], [E_AMP_MAGENTA, MAGENTA], [E_AMP_CYAN, CYAN]] },
  { kind: "melt", grid: { left: 290, top: 470, width: 240, height: 163 }, xr: [63.2, 100.8], yr: [0, 100], ticks: MELT_TICKS_10,
    melt: [[E_MELT_GRAY_T, E_MELT_GRAY, GRAY], [E_MELT_MAG_T, E_MELT_MAG, MAGENTA], [E_MELT_CYAN_T, E_MELT_CYAN, CYAN]] },
  { kind: "amp", letter: "F", letterPos: [571, 491], grid: { left: 566, top: 470, width: 242, height: 165 }, xr: [-1.0, 42.0], yr: [-5.3, 100], ticks: AMP_TICKS_45,
    amp: [[F_AMP_GRAY, GRAY], [F_AMP_MAGENTA, MAGENTA], [F_AMP_CYAN, CYAN]] },
  { kind: "melt", grid: { left: 832, top: 470, width: 241, height: 165 }, xr: [63.54, 96.3], yr: [0, 100], ticks: MELT_TICKS_5,
    melt: [[F_MELT_GRAY_T, F_MELT_GRAY, GRAY], [F_MELT_MAG_T, F_MELT_MAG, MAGENTA], [F_MELT_CYAN_T, F_MELT_CYAN, CYAN]] },
];

function buildOption() {
  const grids: any[] = [];
  const xAxes: any[] = [];
  const yAxes: any[] = [];
  const series: any[] = [];
  const graphics: any[] = [];

  PANELS.forEach((p, i) => {
    grids.push({ ...p.grid, show: true, borderColor: BORDER, borderWidth: 1, backgroundColor: "transparent", containLabel: false });
    xAxes.push({
      type: "value", gridIndex: i, min: p.xr[0], max: p.xr[1],
      name: p.kind === "amp" ? "Cycle" : "Temperature (°C)",
      nameLocation: "middle", nameGap: 18.5,
      nameTextStyle: { color: AXIS_TEXT, fontSize: 10.8, fontFamily: FONT },
      axisLine: { show: false }, axisTick: { show: false }, splitLine: { show: false },
      axisLabel: { show: true, customValues: p.ticks, color: AXIS_TEXT, fontSize: 10.5, fontFamily: FONT, margin: 4.5 },
    });
    yAxes.push({
      type: "value", gridIndex: i, min: p.yr[0], max: p.yr[1],
      name: p.kind === "amp" ? "Fluorescence" : "-dF/dT",
      nameLocation: "middle", nameGap: p.kind === "amp" ? 4 : 3, nameRotate: 90,
      nameTextStyle: { color: AXIS_TEXT, fontSize: 10.5, fontFamily: FONT },
      axisLine: { show: false }, axisTick: { show: false }, splitLine: { show: false }, axisLabel: { show: false },
    });
    if (p.amp) {
      p.amp.forEach(([curves, color]) => {
        curves.forEach((c) => {
          series.push({
            type: "line", xAxisIndex: i, yAxisIndex: i, data: c, symbol: "none", showSymbol: false,
            smooth: 0.35, silent: true, clip: true,
            lineStyle: { width: 1.1, color }, itemStyle: { color },
          });
        });
      });
    }
    if (p.melt) {
      p.melt.forEach(([T, rows, color]) => {
        rows.forEach((r) => {
          series.push({
            type: "line", xAxisIndex: i, yAxisIndex: i, data: T.map((t, k) => [t, r[k]]), symbol: "none", showSymbol: false,
            smooth: 0.4, silent: true, clip: true,
            lineStyle: { width: 1.1, color }, itemStyle: { color },
          });
        });
      });
    }
    if (p.letter && p.letterPos) {
      graphics.push({
        type: "text", left: p.letterPos[0], top: p.letterPos[1] - 13,
        style: { text: p.letter, fill: "#8f8f8f", font: `200 25px ${FONT}` },
        z: 10,
      });
    }
  });

  return {
    animation: false,
    backgroundColor: "#ffffff",
    grid: grids,
    xAxis: xAxes,
    yAxis: yAxes,
    series,
    graphic: graphics,
  };
}

export default function App() {
  const ref = useRef<HTMLDivElement>(null);
  useEffect(() => {
    if (!ref.current) return;
    const chart = echarts.init(ref.current, undefined, { renderer: "svg" });
    chart.setOption(buildOption() as any);
    return () => chart.dispose();
  }, []);
  return (
    <div
      ref={ref}
      style={{ position: "fixed", left: 0, top: 0, width: 1077, height: 666, background: "#fff" }}
    />
  );
}
